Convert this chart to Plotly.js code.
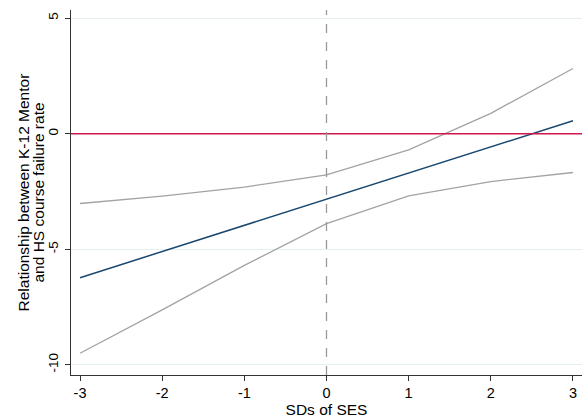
<!DOCTYPE html>
<html>
<head>
<meta charset="utf-8">
<script src="https://cdn.plot.ly/plotly-3.0.1.min.js"></script>
<style>html,body{margin:0;padding:0;background:#fff;}#chart{width:587px;height:419px;}</style>
</head>
<body>
<div id="chart"></div>
<script>
const sesSD = [-3, -2, -1, 0, 1, 2, 3];
const estimate = [-6.23, -5.10, -3.97, -2.83, -1.70, -0.57, 0.56];
const upperCI = [-3.02, -2.70, -2.31, -1.78, -0.70, 0.88, 2.82];
const lowerCI = [-9.50, -7.62, -5.70, -3.89, -2.69, -2.07, -1.68];
const xTicks = [-3, -2, -1, 0, 1, 2, 3];
const yTicks = [-10, -5, 0, 5];
const yTitleLines = ['Relationship between K-12 Mentor', 'and HS course failure rate'];
const xTitle = 'SDs of SES';
const refY = 0;
const refX = 0;

const font = 'Liberation Sans, Arial, sans-serif';
const traces = [
  {x: sesSD, y: upperCI, mode: 'lines', line: {color: '#a3a3a3', width: 1.3}, hoverinfo: 'skip'},
  {x: sesSD, y: lowerCI, mode: 'lines', line: {color: '#a3a3a3', width: 1.3}, hoverinfo: 'skip'},
  {x: sesSD, y: estimate, mode: 'lines', line: {color: '#1a476f', width: 1.5}, hoverinfo: 'skip'}
];
const layout = {
  width: 587, height: 419,
  margin: {l: 71, r: 5, t: 10, b: 44},
  paper_bgcolor: '#ffffff', plot_bgcolor: '#ffffff',
  showlegend: false,
  font: {family: font, size: 13, color: '#000'},
  xaxis: {
    range: [-3.11, 3.11], tickvals: xTicks, ticktext: xTicks.map(String),
    showgrid: false, zeroline: false, showline: true, linecolor: '#333', linewidth: 1,
    ticks: 'outside', ticklen: 5, tickcolor: '#333',
    tickfont: {size: 14.5, family: font},
    title: {text: xTitle, font: {size: 15.5, family: font}, standoff: 1}
  },
  yaxis: {
    range: [-10.44, 5.35], tickvals: yTicks, ticktext: yTicks.map(String),
    tickangle: -90,
    showgrid: true, gridcolor: '#e6eff1', gridwidth: 1, zeroline: false,
    showline: true, linecolor: '#333', linewidth: 1,
    ticks: 'outside', ticklen: 5, tickcolor: '#333',
    ticklabelstandoff: 2,
    tickfont: {size: 13.5, family: font}
  },
  annotations: [
    {text: yTitleLines[0], textangle: -90, xref: 'paper', yref: 'paper', x: 0, y: 0.5,
     xanchor: 'center', yanchor: 'middle', xshift: -48, showarrow: false, font: {size: 15.5, family: font}},
    {text: yTitleLines[1], textangle: -90, xref: 'paper', yref: 'paper', x: 0, y: 0.5,
     xanchor: 'center', yanchor: 'middle', xshift: -33, showarrow: false, font: {size: 15.5, family: font}}
  ],
  shapes: [
    {type: 'line', xref: 'paper', x0: 0, x1: 1, yref: 'y', y0: refY, y1: refY, line: {color: '#d0174b', width: 1.5}},
    {type: 'line', xref: 'x', x0: refX, x1: refX, yref: 'paper', y0: 0, y1: 1, line: {color: '#999999', width: 1.3, dash: 'dash'}, layer: 'above'}
  ]
};
Plotly.newPlot('chart', traces, layout, {displayModeBar: false, staticPlot: true});
</script>
</body>
</html>
